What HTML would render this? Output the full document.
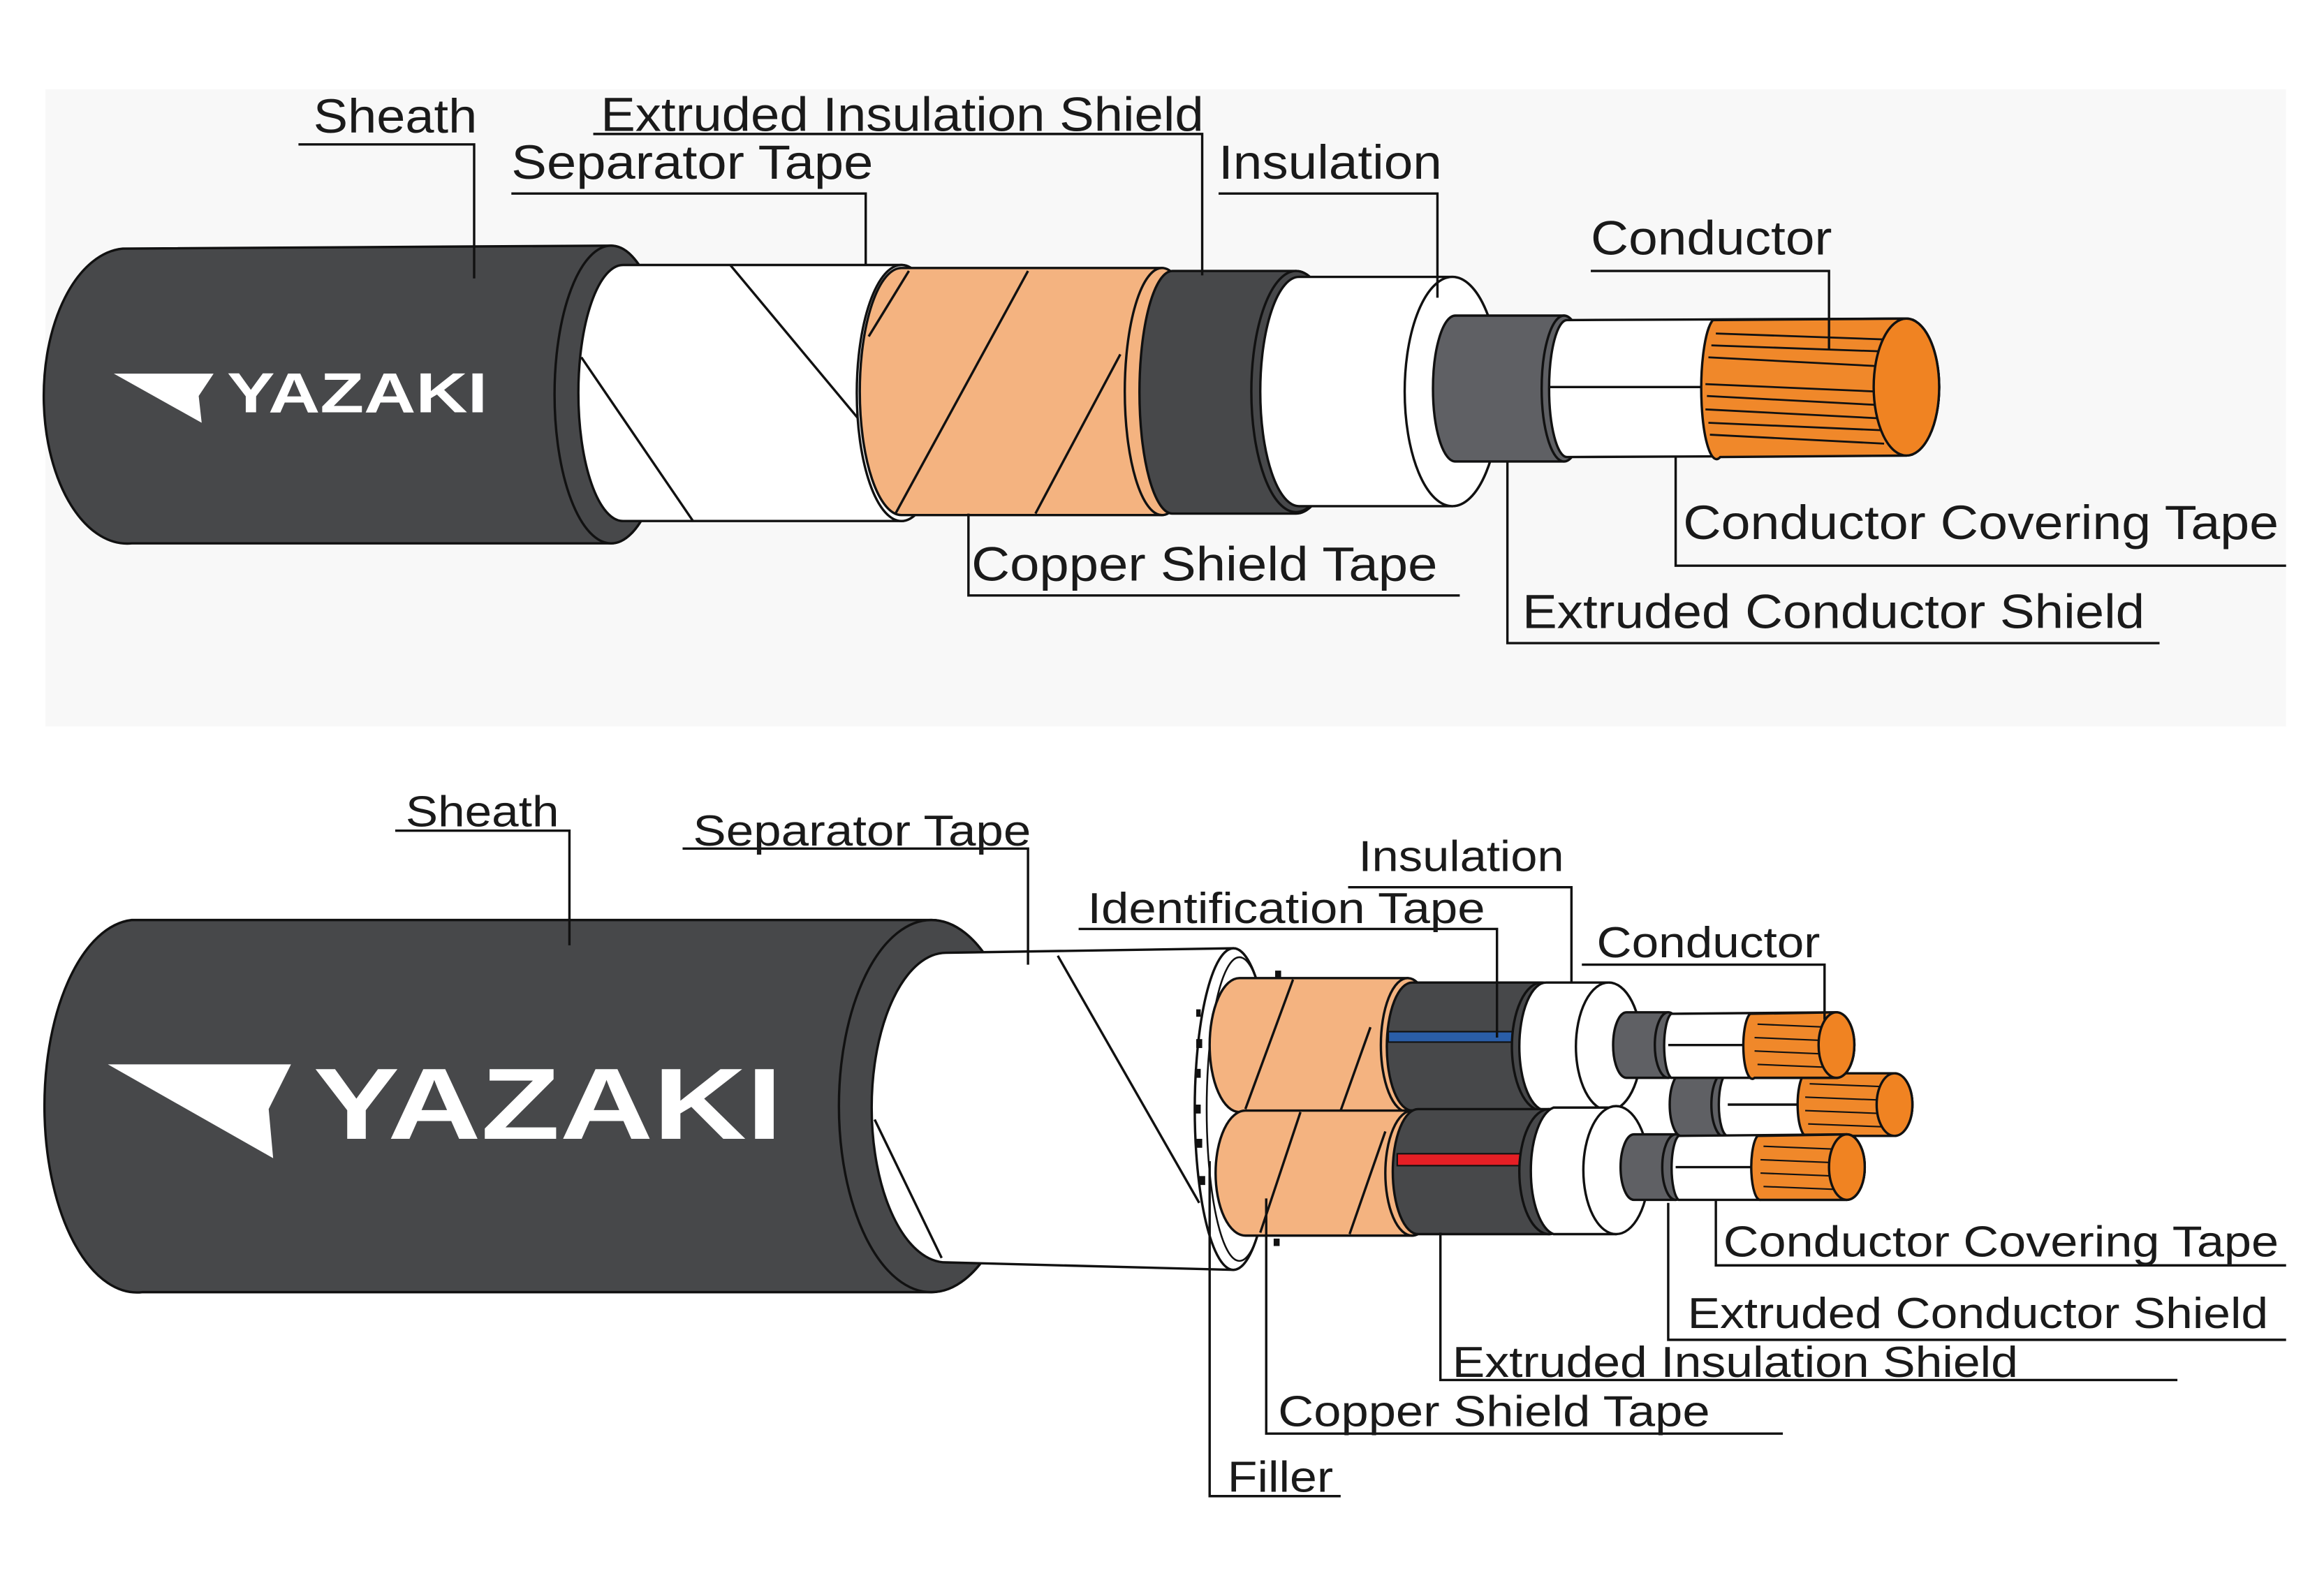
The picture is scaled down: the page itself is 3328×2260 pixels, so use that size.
<!DOCTYPE html>
<html><head><meta charset="utf-8"><style>html,body{margin:0;padding:0;background:#fff}svg{display:block}text{font-family:"Liberation Sans",Arial,sans-serif;fill:#1a1a1a}</style></head>
<body>
<svg width="3328" height="2260" viewBox="0 0 1560 1060" xmlns="http://www.w3.org/2000/svg">
<rect x="0" y="0" width="1560" height="1060" fill="#fff"/>
<rect x="30" y="60" width="1505" height="428" fill="#f8f8f8"/>
<g stroke="#111" stroke-width="1.6">
<!-- TOP CABLE (outer to inner) -->
<path d="M82,167 L410,165 A38,100 0 0 1 410,365 L88,365 A56,99 0 0 1 82,167 Z" fill="#47484a"/>
<ellipse cx="410" cy="265" rx="38" ry="100" fill="#47484a"/>
<path d="M418,178 L605,178 A30,86 0 0 1 605,350 L418,350 A30,86 0 0 1 418,178 Z" fill="#fff"/>
<line x1="490" y1="178" x2="600" y2="310"/>
<line x1="390" y1="240" x2="465" y2="350"/>
<ellipse cx="605" cy="264" rx="30" ry="86" fill="#fff"/>
<path d="M605,180 L780,180 A25,83 0 0 1 780,346 L605,346 A28,83 0 0 1 605,180 Z" fill="#f4b380"/>
<line x1="690" y1="182" x2="601" y2="345"/><line x1="752" y1="238" x2="695" y2="345"/><line x1="610" y1="182" x2="583" y2="226"/>
<ellipse cx="780" cy="263" rx="25" ry="83" fill="#f4b380"/>
<path d="M787,182 L870,182 A30,81 0 0 1 870,345 L787,345 A22,81 0 0 1 787,182 Z" fill="#47484a"/>
<ellipse cx="870" cy="263" rx="30" ry="81" fill="#47484a"/>
<path d="M872,186 L975,186 A32,77 0 0 1 975,340 L872,340 A26,77 0 0 1 872,186 Z" fill="#fff"/>
<ellipse cx="975" cy="263" rx="32" ry="77" fill="#fff"/>
<path d="M977,212 L1050,212 A15,49 0 0 1 1050,310 L977,310 A15,49 0 0 1 977,212 Z" fill="#5f6064"/>
<ellipse cx="1050" cy="261" rx="15" ry="49" fill="#5f6064"/>
<path d="M1052,215 L1280,214 A22,46 0 0 1 1280,306 L1052,307 A12,46 0 0 1 1052,215 Z" fill="#fff"/>
<line x1="1040" y1="260" x2="1148" y2="260"/>
<path d="M1150,215 L1280,214 A22,46 0 0 1 1280,306 L1155,307 A10,46 0 0 1 1150,215 Z" fill="#f0882a"/>
<g stroke-width="1.3"><line x1="1152" y1="224" x2="1265" y2="228"/><line x1="1147" y1="240" x2="1262" y2="246"/><line x1="1145" y1="258" x2="1260" y2="263"/><line x1="1145" y1="275" x2="1262" y2="281"/><line x1="1148" y1="292" x2="1265" y2="298"/><line x1="1149" y1="232" x2="1262" y2="236"/><line x1="1146" y1="266" x2="1260" y2="272"/><line x1="1147" y1="284" x2="1263" y2="289"/></g>
<ellipse cx="1280" cy="260" rx="22" ry="46" fill="#f08322"/>

<!-- BOTTOM CABLE -->
<path d="M88,618 L625,618 A62,125 0 0 1 625,868 L95,868 A62,125 0 0 1 88,618 Z" fill="#47484a"/>
<ellipse cx="625" cy="743" rx="62" ry="125" fill="#47484a"/>
<path d="M635,640 L828,637 A26,108 0 0 1 828,853 L635,848 A50,104 0 0 1 635,640 Z" fill="#fff"/>
<line x1="710" y1="642" x2="805" y2="808"/>
<line x1="587" y1="752" x2="632" y2="845"/>
<ellipse cx="828" cy="745" rx="26" ry="108" fill="#fff"/>
<ellipse cx="832" cy="745" rx="22" ry="102" fill="none" stroke-width="1.2"/>
<g fill="#111" stroke="none"><rect x="803" y="698" width="4" height="6"/><rect x="802" y="718" width="4" height="6"/><rect x="802" y="742" width="4" height="6"/><rect x="803" y="765" width="4" height="6"/><rect x="805" y="790" width="4" height="6"/><rect x="855" y="832" width="4" height="5"/><rect x="856" y="652" width="4" height="5"/><rect x="803" y="678" width="3" height="5"/></g>
<!-- core2 (back) -->
<path d="M1130,720 L1158,720 A9,22 0 0 1 1158,764 L1130,764 A9,22 0 0 1 1130,720 Z" fill="#5f6064"/>
<ellipse cx="1158" cy="742" rx="9" ry="22" fill="#5f6064"/>
<path d="M1160,721 L1272,721 A12,21 0 0 1 1272,763 L1160,763 A6,21 0 0 1 1160,721 Z" fill="#fff"/>
<line x1="1160" y1="742" x2="1210" y2="742"/>
<path d="M1212,721 L1272,721 A12,21 0 0 1 1272,763 L1214,763 A6,21 0 0 1 1212,721 Z" fill="#f0882a"/>
<g stroke-width="1"><line x1="1215" y1="728" x2="1266" y2="730"/><line x1="1212" y1="737" x2="1264" y2="739"/><line x1="1212" y1="746" x2="1264" y2="748"/><line x1="1214" y1="755" x2="1266" y2="757"/></g>
<ellipse cx="1272" cy="742" rx="12" ry="21" fill="#f08322"/>
<!-- top big core -->
<path d="M832,657 L945,657 A18,45 0 0 1 945,747 L832,747 A20,45 0 0 1 832,657 Z" fill="#f4b380"/>
<line x1="868" y1="658" x2="836" y2="745"/><line x1="920" y1="690" x2="900" y2="746"/>
<ellipse cx="945" cy="702" rx="18" ry="45" fill="#f4b380"/>
<path d="M948,660 L1035,660 A20,43 0 0 1 1035,746 L948,746 A17,43 0 0 1 948,660 Z" fill="#47484a"/>
<rect x="932" y="693" width="85" height="7" fill="#2a5ea8" stroke-width="1"/>
<ellipse cx="1035" cy="703" rx="20" ry="43" fill="#47484a"/>
<path d="M1038,660 L1080,660 A22,43 0 0 1 1080,746 L1038,746 A18,43 0 0 1 1038,660 Z" fill="#fff"/>
<ellipse cx="1080" cy="703" rx="22" ry="43" fill="#fff"/>
<!-- core1 -->
<path d="M1092,680 L1120,680 A9,22 0 0 1 1120,724 L1092,724 A9,22 0 0 1 1092,680 Z" fill="#5f6064"/>
<ellipse cx="1120" cy="702" rx="9" ry="22" fill="#5f6064"/>
<path d="M1122,681 L1233,680 A12,22 0 0 1 1233,724 L1122,724 A6,22 0 0 1 1122,681 Z" fill="#fff"/>
<line x1="1120" y1="702" x2="1175" y2="702"/>
<path d="M1175,681 L1233,680 A12,22 0 0 1 1233,724 L1178,724 A6,22 0 0 1 1175,681 Z" fill="#f0882a"/>
<g stroke-width="1"><line x1="1180" y1="688" x2="1228" y2="690"/><line x1="1178" y1="697" x2="1226" y2="699"/><line x1="1178" y1="706" x2="1226" y2="708"/><line x1="1180" y1="715" x2="1228" y2="717"/></g>
<ellipse cx="1233" cy="702" rx="12" ry="22" fill="#f08322"/>
<!-- bottom big core -->
<path d="M836,746 L948,746 A18,42 0 0 1 948,830 L836,830 A20,42 0 0 1 836,746 Z" fill="#f4b380"/>
<line x1="873" y1="747" x2="846" y2="828"/><line x1="930" y1="760" x2="906" y2="829"/>
<ellipse cx="948" cy="788" rx="18" ry="42" fill="#f4b380"/>
<path d="M952,745 L1040,745 A20,42 0 0 1 1040,829 L952,829 A17,42 0 0 1 952,745 Z" fill="#47484a"/>
<rect x="938" y="775" width="84" height="8" fill="#e61f25" stroke-width="1"/>
<ellipse cx="1040" cy="787" rx="20" ry="42" fill="#47484a"/>
<path d="M1043,744 L1085,744 A22,43 0 0 1 1085,829 L1043,829 A18,43 0 0 1 1043,744 Z" fill="#fff"/>
<ellipse cx="1085" cy="786" rx="22" ry="43" fill="#fff"/>
<!-- core3 -->
<path d="M1097,762 L1125,762 A9,22 0 0 1 1125,806 L1097,806 A9,22 0 0 1 1097,762 Z" fill="#5f6064"/>
<ellipse cx="1125" cy="784" rx="9" ry="22" fill="#5f6064"/>
<path d="M1127,763 L1240,762 A12,22 0 0 1 1240,806 L1127,806 A6,22 0 0 1 1127,763 Z" fill="#fff"/>
<line x1="1125" y1="784" x2="1180" y2="784"/>
<path d="M1180,763 L1240,762 A12,22 0 0 1 1240,806 L1182,806 A6,22 0 0 1 1180,763 Z" fill="#f0882a"/>
<g stroke-width="1"><line x1="1184" y1="770" x2="1234" y2="772"/><line x1="1182" y1="779" x2="1232" y2="781"/><line x1="1182" y1="788" x2="1232" y2="790"/><line x1="1184" y1="797" x2="1234" y2="799"/></g>
<ellipse cx="1240" cy="784" rx="12" ry="22" fill="#f08322"/>

<!-- LEADER LINES -->
<g fill="none" stroke-width="1.6">
<polyline points="200,97 318,97 318,187"/>
<polyline points="398,90 807,90 807,185"/>
<polyline points="343,130 581,130 581,178"/>
<polyline points="818,130 965,130 965,200"/>
<polyline points="1068,182 1228,182 1228,235"/>
<polyline points="650,345 650,400 980,400"/>
<polyline points="1125,307 1125,380 1535,380"/>
<polyline points="1012,310 1012,432 1450,432"/>
<polyline points="265,558 382,558 382,635"/>
<polyline points="458,570 690,570 690,648"/>
<polyline points="905,596 1055,596 1055,660"/>
<polyline points="724,624 1005,624 1005,697"/>
<polyline points="1062,648 1225,648 1225,685"/>
<polyline points="1152,806 1152,850 1535,850"/>
<polyline points="1120,808 1120,900 1535,900"/>
<polyline points="967,828 967,927 1462,927"/>
<polyline points="850,805 850,963 1197,963"/>
<polyline points="812,780 812,1005 900,1005"/>
</g>
</g>
<!-- logos -->
<polygon points="76,251 143,251 133,266 135,284" fill="#fff"/>
<text x="152" y="277" font-size="38" font-weight="bold" textLength="175" lengthAdjust="spacingAndGlyphs" style="fill:#fff">YAZAKI</text>
<polygon points="72,715 195,715 180,745 183,778" fill="#fff"/>
<text x="210" y="765" font-size="68" font-weight="bold" textLength="315" lengthAdjust="spacingAndGlyphs" style="fill:#fff">YAZAKI</text>
<!-- labels top -->
<g font-size="32">
<text x="210" y="89" textLength="110" lengthAdjust="spacingAndGlyphs">Sheath</text>
<text x="403" y="88" textLength="405" lengthAdjust="spacingAndGlyphs">Extruded Insulation Shield</text>
<text x="343" y="120" textLength="243" lengthAdjust="spacingAndGlyphs">Separator Tape</text>
<text x="818" y="120" textLength="150" lengthAdjust="spacingAndGlyphs">Insulation</text>
<text x="1068" y="171" textLength="162" lengthAdjust="spacingAndGlyphs">Conductor</text>
<text x="652" y="390" textLength="313" lengthAdjust="spacingAndGlyphs">Copper Shield Tape</text>
<text x="1130" y="362" textLength="400" lengthAdjust="spacingAndGlyphs">Conductor Covering Tape</text>
<text x="1022" y="422" textLength="418" lengthAdjust="spacingAndGlyphs">Extruded Conductor Shield</text>
</g>
<g font-size="29">
<text x="272" y="555" textLength="103" lengthAdjust="spacingAndGlyphs">Sheath</text>
<text x="465" y="568" textLength="227" lengthAdjust="spacingAndGlyphs">Separator Tape</text>
<text x="912" y="585" textLength="138" lengthAdjust="spacingAndGlyphs">Insulation</text>
<text x="730" y="620" textLength="267" lengthAdjust="spacingAndGlyphs">Identification Tape</text>
<text x="1072" y="643" textLength="150" lengthAdjust="spacingAndGlyphs">Conductor</text>
<text x="1157" y="844" textLength="373" lengthAdjust="spacingAndGlyphs">Conductor Covering Tape</text>
<text x="1133" y="892" textLength="390" lengthAdjust="spacingAndGlyphs">Extruded Conductor Shield</text>
<text x="975" y="925" textLength="380" lengthAdjust="spacingAndGlyphs">Extruded Insulation Shield</text>
<text x="858" y="958" textLength="290" lengthAdjust="spacingAndGlyphs">Copper Shield Tape</text>
<text x="824" y="1002" textLength="71" lengthAdjust="spacingAndGlyphs">Filler</text>
</g>
</svg>
</body></html>
